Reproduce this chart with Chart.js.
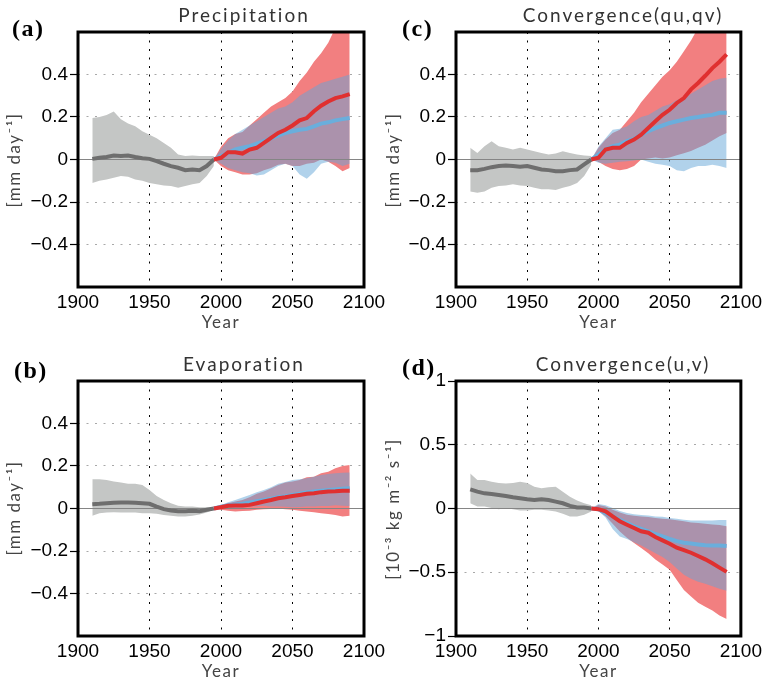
<!DOCTYPE html>
<html>
<head>
<meta charset="utf-8">
<script src="https://cdn.jsdelivr.net/npm/chart.js@4.4.1/dist/chart.umd.min.js"></script>
<style>
body { margin: 0; background: #fff; }
#wrap { position: relative; width: 766px; height: 683px; overflow: hidden; }
canvas { position: absolute; }
</style>
</head>
<body>
<div id="wrap">
  <canvas id="pa" width="395" height="340" style="left:0;top:0"></canvas>
  <canvas id="pb" width="395" height="343" style="left:0;top:340px"></canvas>
  <canvas id="pc" width="383" height="340" style="left:383px;top:0"></canvas>
  <canvas id="pd" width="383" height="343" style="left:383px;top:340px"></canvas>
</div>
<script>
// Moisture budget anomalies: historical (gray) and two projections (red / blue)
const histYears = [1910, 1915, 1920, 1925, 1930, 1935, 1940, 1945, 1950, 1955, 1960, 1965, 1970, 1975, 1980, 1985, 1990, 1995];
const projYears = [1995, 2000, 2005, 2010, 2015, 2020, 2025, 2030, 2035, 2040, 2045, 2050, 2055, 2060, 2065, 2070, 2075, 2080, 2085, 2090];
const zeroLine = [[1900, 0], [2100, 0]];

// (a) Precipitation
const precipGray   = [0.003, 0.008, 0.012, 0.019, 0.016, 0.019, 0.012, 0.006, 0.003, -0.008, -0.02, -0.031, -0.039, -0.05, -0.047, -0.05, -0.031, 0];
const precipGrayHi = [0.195, 0.2, 0.21, 0.226, 0.19, 0.17, 0.156, 0.133, 0.117, 0.1, 0.078, 0.055, 0.023, 0.016, 0.019, 0.016, 0.016, 0.016];
const precipGrayLo = [-0.11, -0.1, -0.094, -0.086, -0.078, -0.081, -0.094, -0.1, -0.11, -0.117, -0.122, -0.125, -0.133, -0.125, -0.117, -0.11, -0.078, -0.031];
const precipRed    = [0, 0.008, 0.034, 0.034, 0.028, 0.047, 0.055, 0.078, 0.102, 0.125, 0.14, 0.16, 0.184, 0.195, 0.227, 0.253, 0.273, 0.289, 0.297, 0.308];
const precipRedHi  = [0, 0.06, 0.1, 0.12, 0.13, 0.16, 0.19, 0.22, 0.25, 0.27, 0.29, 0.32, 0.37, 0.41, 0.46, 0.5, 0.55, 0.62, 0.66, 0.66];
const precipRedLo  = [0, -0.03, -0.05, -0.06, -0.07, -0.07, -0.065, -0.05, -0.04, -0.025, -0.02, -0.03, -0.03, -0.02, -0.015, 0, -0.01, -0.03, -0.055, -0.04];
const precipBlue   = [0, 0.016, 0.031, 0.047, 0.055, 0.0625, 0.075, 0.086, 0.1, 0.112, 0.125, 0.133, 0.14, 0.144, 0.156, 0.169, 0.175, 0.184, 0.19, 0.195];
const precipBlueHi = [0, 0.05, 0.09, 0.12, 0.14, 0.16, 0.18, 0.2, 0.22, 0.24, 0.25, 0.27, 0.3, 0.32, 0.34, 0.36, 0.37, 0.38, 0.39, 0.4];
const precipBlueLo = [0, -0.02, -0.04, -0.05, -0.06, -0.065, -0.075, -0.07, -0.05, -0.03, -0.02, -0.03, -0.07, -0.09, -0.06, -0.02, -0.01, -0.015, -0.03, -0.02];

// (b) Evaporation
const evapGray   = [0.02, 0.022, 0.025, 0.027, 0.028, 0.028, 0.027, 0.025, 0.022, 0.009, -0.003, -0.009, -0.0125, -0.0125, -0.011, -0.0125, -0.006, 0];
const evapGrayHi = [0.1375, 0.1375, 0.134, 0.127, 0.122, 0.116, 0.116, 0.111, 0.0875, 0.059, 0.04, 0.025, 0.0125, 0.009, 0.009, 0.006, 0.006, 0.005];
const evapGrayLo = [-0.034, -0.022, -0.019, -0.018, -0.019, -0.019, -0.019, -0.022, -0.022, -0.025, -0.03, -0.034, -0.0375, -0.0375, -0.034, -0.028, -0.019, -0.006];
const evapRed    = [0, 0.006, 0.0125, 0.014, 0.014, 0.017, 0.025, 0.033, 0.04, 0.048, 0.053, 0.059, 0.064, 0.069, 0.072, 0.077, 0.08, 0.081, 0.083, 0.084];
const evapRedHi  = [0, 0.017, 0.025, 0.033, 0.04, 0.053, 0.069, 0.08, 0.095, 0.111, 0.122, 0.127, 0.134, 0.147, 0.15, 0.166, 0.173, 0.19, 0.2, 0.205];
const evapRedLo  = [0, -0.006, -0.01, -0.014, -0.012, -0.01, -0.006, -0.003, -0.002, 0, -0.003, -0.006, -0.01, -0.014, -0.018, -0.022, -0.026, -0.03, -0.0375, -0.034];
const evapBlue   = [0, 0.009, 0.014, 0.019, 0.023, 0.028, 0.034, 0.04, 0.046, 0.053, 0.058, 0.064, 0.07, 0.075, 0.08, 0.084, 0.087, 0.09, 0.093, 0.095];
const evapBlueHi = [0, 0.017, 0.03, 0.04, 0.052, 0.064, 0.076, 0.0875, 0.1, 0.116, 0.125, 0.134, 0.138, 0.142, 0.15, 0.158, 0.162, 0.166, 0.168, 0.169];
const evapBlueLo = [0, -0.004, 0, 0.002, 0.005, 0.009, 0.011, 0.0125, 0.01, 0.009, 0.008, 0.006, 0.007, 0.009, 0.01, 0.012, 0.012, 0.015, 0.013, 0.012];

// (c) Convergence(qu,qv)
const convqGray   = [-0.05, -0.05, -0.044, -0.036, -0.031, -0.028, -0.031, -0.034, -0.031, -0.039, -0.047, -0.05, -0.055, -0.055, -0.05, -0.047, -0.023, 0];
const convqGrayHi = [0.055, 0.031, 0.0625, 0.086, 0.0625, 0.055, 0.047, 0.055, 0.047, 0.039, 0.031, 0.023, 0.028, 0.039, 0.031, 0.023, 0.019, 0.016];
const convqGrayLo = [-0.15, -0.156, -0.15, -0.133, -0.125, -0.122, -0.117, -0.122, -0.125, -0.133, -0.14, -0.14, -0.144, -0.133, -0.125, -0.11, -0.078, -0.023];
const convqRed    = [0, 0.008, 0.047, 0.055, 0.055, 0.078, 0.094, 0.117, 0.148, 0.18, 0.21, 0.234, 0.266, 0.289, 0.33, 0.36, 0.394, 0.43, 0.46, 0.495];
const convqRedHi  = [0, 0.055, 0.094, 0.125, 0.14, 0.18, 0.22, 0.27, 0.31, 0.35, 0.39, 0.42, 0.46, 0.51, 0.56, 0.62, 0.7, 0.7, 0.7, 0.7];
const convqRedLo  = [0, -0.01, -0.03, -0.045, -0.05, -0.045, -0.03, 0, 0.005, 0.01, 0.005, 0.01, 0.02, 0.03, 0.04, 0.055, 0.07, 0.09, 0.11, 0.125];
const convqBlue   = [0, 0.023, 0.047, 0.0625, 0.07, 0.086, 0.097, 0.117, 0.133, 0.148, 0.16, 0.172, 0.18, 0.1875, 0.195, 0.2, 0.206, 0.21, 0.22, 0.22];
const convqBlueHi = [0, 0.06, 0.1, 0.14, 0.145, 0.155, 0.18, 0.2, 0.21, 0.23, 0.25, 0.26, 0.28, 0.29, 0.31, 0.33, 0.35, 0.37, 0.38, 0.385];
const convqBlueLo = [0, -0.015, -0.02, -0.015, -0.01, -0.008, -0.005, 0, -0.01, -0.02, -0.025, -0.03, -0.05, -0.055, -0.04, -0.03, -0.03, -0.025, -0.03, -0.04];

// (d) Convergence(u,v)
const convGray   = [0.15, 0.132, 0.119, 0.114, 0.106, 0.098, 0.088, 0.08, 0.0725, 0.067, 0.0725, 0.067, 0.054, 0.041, 0.02, 0.008, 0.008, 0];
const convGrayHi = [0.275, 0.223, 0.223, 0.21, 0.2, 0.197, 0.2, 0.21, 0.2, 0.171, 0.158, 0.166, 0.171, 0.132, 0.093, 0.062, 0.041, 0.026];
const convGrayLo = [0.041, 0.016, 0.016, 0.003, -0.005, 0.003, -0.005, -0.016, -0.016, -0.01, -0.01, -0.016, -0.023, -0.041, -0.062, -0.062, -0.049, -0.023];
const convRed    = [0, -0.005, -0.023, -0.062, -0.1, -0.127, -0.153, -0.179, -0.19, -0.223, -0.25, -0.277, -0.308, -0.326, -0.347, -0.373, -0.399, -0.43, -0.464, -0.497];
const convRedHi  = [0, 0.028, 0.016, -0.01, -0.031, -0.049, -0.057, -0.062, -0.067, -0.075, -0.08, -0.085, -0.093, -0.1, -0.109, -0.114, -0.12, -0.125, -0.13, -0.14];
const convRedLo  = [0, -0.02, -0.06, -0.12, -0.18, -0.23, -0.27, -0.31, -0.35, -0.4, -0.44, -0.48, -0.56, -0.64, -0.69, -0.74, -0.77, -0.8, -0.84, -0.866];
const convBlue   = [0, -0.005, -0.036, -0.062, -0.088, -0.114, -0.14, -0.16, -0.179, -0.2, -0.218, -0.238, -0.256, -0.269, -0.275, -0.282, -0.288, -0.29, -0.29, -0.295];
const convBlueHi = [0, 0.035, 0.025, 0.003, -0.02, -0.035, -0.045, -0.05, -0.055, -0.062, -0.065, -0.075, -0.08, -0.088, -0.095, -0.095, -0.095, -0.095, -0.09, -0.09];
const convBlueLo = [0, -0.02, -0.07, -0.16, -0.22, -0.24, -0.265, -0.29, -0.32, -0.35, -0.38, -0.42, -0.47, -0.52, -0.55, -0.575, -0.59, -0.61, -0.63, -0.646];

const ticksMm = [-0.4, -0.2, 0, 0.2, 0.4];
const ticksKg = [-1, -0.5, 0, 0.5, 1];

// colours
const GRAY_BAND = '#c4c6c5', GRAY_LINE = '#6e6e6e';
const RED_BAND = '#f27f80', RED_LINE = '#e03030';
const BLUE_BAND = 'rgba(100,165,215,0.5)', BLUE_LINE = '#6aaedc';
const TITLE_FONT = '400 19px Lato, "DejaVu Sans", sans-serif';
const LABEL_FONT = '400 17px Lato, "DejaVu Sans", sans-serif';

function pts(xs, ys) {
    return xs.map((x, i) => ({ x: x, y: ys[i] }));
}

// lo edge (no line) followed by hi edge that fills back to it
function band(xs, lo, hi, color, order) {
    return [
        { data: pts(xs, lo), borderWidth: 0, pointRadius: 0, fill: false, order: order },
        { data: pts(xs, hi), borderWidth: 0, pointRadius: 0, fill: '-1', backgroundColor: color, order: order }
    ];
}

function line(xs, ys, color, width, order) {
    return { data: pts(xs, ys), borderColor: color, borderWidth: width, pointRadius: 0, fill: false, order: order };
}

// frame, panel letter, title and axis titles
const panelText = {
    id: 'panelText',
    afterDraw(chart, args, o) {
        const ctx = chart.ctx;
        const a = chart.chartArea;
        ctx.save();
        ctx.lineWidth = 3;
        ctx.strokeStyle = '#000';
        ctx.strokeRect(a.left, a.top, a.right - a.left, a.bottom - a.top);

        ctx.fillStyle = '#000';
        ctx.textAlign = 'left';
        ctx.textBaseline = 'alphabetic';
        ctx.font = 'bold 24px "Liberation Serif", "Times New Roman", serif';
        ctx.letterSpacing = '1.5px';
        ctx.fillText(o.letter, o.letterX, o.letterY);

        ctx.fillStyle = '#333';
        ctx.textAlign = 'center';
        ctx.font = TITLE_FONT;
        ctx.letterSpacing = '2px';
        ctx.fillText(o.title, o.titleX, o.titleY);

        ctx.font = LABEL_FONT;
        ctx.fillStyle = '#444';
        ctx.letterSpacing = '1.5px';
        ctx.fillText('Year', (a.left + a.right) / 2, o.yearY);

        ctx.translate(o.yLabelX, o.yLabelY);
        ctx.rotate(-Math.PI / 2);
        ctx.textBaseline = 'middle';
        ctx.fillText(o.yLabel, 0, 0);
        ctx.restore();
    }
};

function fmtTick(v) {
    if (v === 0) return '0';
    return (v < 0 ? '\u2212' : '') + String(Math.abs(v));
}

function drawPanel(p) {
    const canvas = document.getElementById(p.id);
    const W = canvas.width, H = canvas.height;
    const datasets = []
        .concat(band(histYears, p.grayLo, p.grayHi, GRAY_BAND, 10))
        .concat(band(projYears, p.redLo, p.redHi, RED_BAND, 9))
        .concat(band(projYears, p.blueLo, p.blueHi, BLUE_BAND, 8));
    datasets.push({ data: zeroLine.map(z => ({ x: z[0], y: z[1] })), borderColor: '#858585', borderWidth: 1.2, pointRadius: 0, fill: false, order: 7 });
    datasets.push(line(histYears, p.gray, GRAY_LINE, 4, 6));
    datasets.push(line(projYears, p.blue, BLUE_LINE, 4, 5));
    datasets.push(line(projYears, p.red, RED_LINE, 4, 4));

    new Chart(canvas.getContext('2d'), {
        type: 'line',
        data: { datasets: datasets },
        plugins: [panelText],
        options: {
            responsive: false,
            animation: false,
            devicePixelRatio: 1,
            layout: {
                autoPadding: false,
                padding: { left: 0, top: p.area.top, right: W - p.area.right, bottom: 0 }
            },
            elements: { line: { tension: 0 } },
            scales: {
                x: {
                    type: 'linear',
                    min: 1900,
                    max: 2100,
                    afterFit: s => { s.height = H - p.area.bottom; },
                    ticks: {
                        stepSize: 50,
                        padding: 4,
                        maxRotation: 0,
                        color: '#000',
                        font: { family: '"Liberation Sans", Arial, sans-serif', size: 19 },
                        callback: v => String(v)
                    },
                    grid: { color: '#000', lineWidth: 1, drawTicks: false },
                    border: { display: false, dash: [2, 6.5] }
                },
                y: {
                    min: p.yMin,
                    max: p.yMax,
                    afterFit: s => { s.width = p.area.left; },
                    afterBuildTicks: s => { s.ticks = p.yTicks.map(v => ({ value: v })); },
                    ticks: {
                        padding: 2,
                        color: '#000',
                        font: { family: '"Liberation Sans", Arial, sans-serif', size: 19 },
                        callback: v => fmtTick(v)
                    },
                    grid: { color: '#a8a8a8', lineWidth: 1, tickLength: 8, tickColor: '#000', tickWidth: 1.2, tickBorderDash: [] },
                    border: { display: false, dash: [2, 6.5] }
                }
            },
            plugins: {
                legend: { display: false },
                tooltip: { enabled: false },
                panelText: p.text
            }
        }
    });
}

drawPanel({
    id: 'pa', area: { left: 78, right: 364, top: 32, bottom: 287 },
    yMin: -0.6, yMax: 0.6, yTicks: ticksMm,
    gray: precipGray, grayHi: precipGrayHi, grayLo: precipGrayLo,
    red: precipRed, redHi: precipRedHi, redLo: precipRedLo,
    blue: precipBlue, blueHi: precipBlueHi, blueLo: precipBlueLo,
    text: { letter: '(a)', letterX: 12, letterY: 36, title: 'Precipitation', titleX: 244, titleY: 22,
            yearY: 328, yLabel: '[mm day\u207B\u00B9]', yLabelX: 15, yLabelY: 160 }
});

drawPanel({
    id: 'pb', area: { left: 78, right: 364, top: 41, bottom: 296 },
    yMin: -0.6, yMax: 0.6, yTicks: ticksMm,
    gray: evapGray, grayHi: evapGrayHi, grayLo: evapGrayLo,
    red: evapRed, redHi: evapRedHi, redLo: evapRedLo,
    blue: evapBlue, blueHi: evapBlueHi, blueLo: evapBlueLo,
    text: { letter: '(b)', letterX: 14, letterY: 38, title: 'Evaporation', titleX: 244, titleY: 31,
            yearY: 337, yLabel: '[mm day\u207B\u00B9]', yLabelX: 15, yLabelY: 168 }
});

drawPanel({
    id: 'pc', area: { left: 73, right: 361, top: 32, bottom: 287 },
    yMin: -0.6, yMax: 0.6, yTicks: ticksMm,
    gray: convqGray, grayHi: convqGrayHi, grayLo: convqGrayLo,
    red: convqRed, redHi: convqRedHi, redLo: convqRedLo,
    blue: convqBlue, blueHi: convqBlueHi, blueLo: convqBlueLo,
    text: { letter: '(c)', letterX: 19, letterY: 36, title: 'Convergence(qu,qv)', titleX: 240, titleY: 22,
            yearY: 328, yLabel: '[mm day\u207B\u00B9]', yLabelX: 11, yLabelY: 160 }
});

drawPanel({
    id: 'pd', area: { left: 73, right: 361, top: 41, bottom: 296 },
    yMin: -1, yMax: 1, yTicks: ticksKg,
    gray: convGray, grayHi: convGrayHi, grayLo: convGrayLo,
    red: convRed, redHi: convRedHi, redLo: convRedLo,
    blue: convBlue, blueHi: convBlueHi, blueLo: convBlueLo,
    text: { letter: '(d)', letterX: 19, letterY: 35, title: 'Convergence(u,v)', titleX: 240, titleY: 31,
            yearY: 337, yLabel: '[10\u207B\u00B3 kg m\u207B\u00B2 s\u207B\u00B9]', yLabelX: 11, yLabelY: 169 }
});
</script>
</body>
</html>
